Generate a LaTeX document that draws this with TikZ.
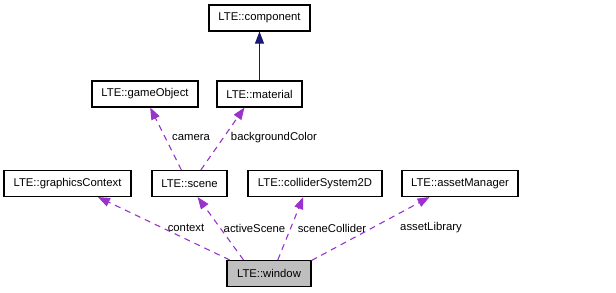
\documentclass[tikz,border=0pt]{standalone}
\usepackage{fontspec}
\setmainfont{Liberation Sans}
\usetikzlibrary{arrows.meta}
\definecolor{dxPurple}{HTML}{9A32CD}
\definecolor{dxBlue}{HTML}{191970}
\definecolor{dxGray}{HTML}{BFBFBF}

\begin{document}
\begin{tikzpicture}[x=1pt,y=-1pt,
    cls/.style={draw=black,line width=1.1pt,fill=white,minimum height=26pt,inner sep=0pt,
      font=\fontsize{11.3}{13}\selectfont},
    uses/.style={-{Triangle[length=12pt,width=9pt]},dxPurple,line width=1.1pt,dash pattern=on 6pt off 5pt},
    isa/.style={-{Triangle[length=12pt,width=9pt]},dxBlue,line width=0.9pt},
    lbl/.style={inner sep=0pt,font=\fontsize{11.3}{13}\selectfont}]
  \useasboundingbox (0,0) rectangle (616,292);
  \node[cls,minimum width=101pt] (component) at (259.5,18) {LTE::component};
  \node[cls,minimum width=106pt] (gameObject) at (145,94) {LTE::gameObject};
  \node[cls,minimum width=85pt] (material) at (259.5,94) {LTE::material};
  \node[cls,minimum width=127pt] (graphicsContext) at (67.5,183.5) {LTE::graphicsContext};
  \node[cls,minimum width=75pt] (scene) at (189.5,183.5) {LTE::scene};
  \node[cls,minimum width=134pt] (colliderSystem) at (315,183.5) {LTE::colliderSystem2D};
  \node[cls,minimum width=116pt] (assetManager) at (460,183.5) {LTE::assetManager};
  \node[cls,minimum width=84pt,fill=dxGray] (window) at (269,273.5) {LTE::window};

  \draw[isa] (material.north) -- (component.south);
  \draw[uses] (scene.121) -- (gameObject.-69);
  \draw[uses] (scene.50) -- (material.-138);
  \draw[uses] (window.161) -- (graphicsContext.-24);
  \draw[uses] (window.152) -- (scene.-59);
  \draw[uses] (window.57) -- (colliderSystem.-131);
  \draw[uses] (window.17) -- (assetManager.-156);

  \node[lbl] (camera) at (191,138) {camera};
  \node[lbl] (backgroundColor) at (274,138) {backgroundColor};
  \node[lbl] (context) at (186,228) {context};
  \node[lbl] (activeScene) at (254.5,228) {activeScene};
  \node[lbl] (sceneCollider) at (332,228) {sceneCollider};
  \node[lbl] (assetLibrary) at (431,228) {assetLibrary};
\end{tikzpicture}
\end{document}
